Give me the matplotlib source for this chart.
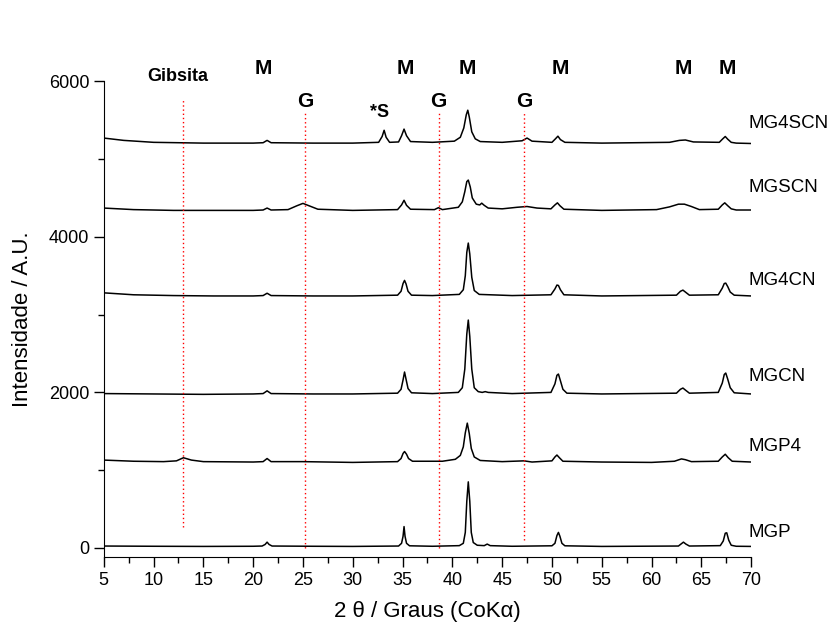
import matplotlib
matplotlib.use("Agg")
import matplotlib.pyplot as plt
from matplotlib.ticker import MultipleLocator

plt.rcParams['font.family'] = ['Liberation Sans', 'DejaVu Sans']

# Difratogramas (2 theta, intensidade)
mgp_x = [5, 10, 15, 20, 20.9, 21.2, 21.4, 21.6, 21.9, 26, 30, 34.6, 34.9, 35.05, 35.15, 35.25, 35.4, 35.7,
         38, 40.7, 41.1, 41.3, 41.45, 41.6, 41.75, 41.9, 42.1, 42.5, 43.2, 43.5, 43.8, 46, 50.0, 50.3, 50.5,
         50.65, 50.8, 51.0, 51.3, 55, 62.7, 63.0, 63.2, 63.45, 63.8, 66.9, 67.2, 67.4, 67.55, 67.75, 68.0,
         68.5, 70]
mgp_y = [25, 22, 20, 22, 25, 45, 75, 45, 25, 22, 20, 25, 60, 150, 275, 150, 60, 28,
         22, 30, 60, 200, 600, 850, 600, 200, 70, 35, 30, 50, 30, 22, 28, 60, 160,
         200, 150, 60, 28, 20, 25, 55, 75, 50, 25, 30, 90, 190, 195, 100, 35,
         22, 20]

mgp4_x = [5, 8, 11, 12.3, 13.0, 13.8, 15, 20, 21.0, 21.4, 21.8, 25, 30, 34.5, 34.85, 35.05, 35.2, 35.4,
          35.6, 36, 39, 40.3, 40.8, 41.1, 41.3, 41.5, 41.7, 41.9, 42.2, 42.8, 45, 47.2, 48, 50.0, 50.3,
          50.5, 50.75, 51.1, 55, 60, 62.3, 63.0, 63.4, 64, 66.7, 67.1, 67.4, 67.7, 68.1, 70]
mgp4_y = [1130, 1115, 1110, 1120, 1160, 1130, 1110, 1105, 1110, 1150, 1110, 1110, 1100, 1110, 1150, 1215, 1240, 1205,
          1150, 1115, 1115, 1140, 1190, 1300, 1480, 1605, 1470, 1280, 1170, 1125, 1110, 1120, 1105, 1120, 1170,
          1195, 1160, 1115, 1105, 1100, 1115, 1145, 1135, 1110, 1115, 1170, 1205, 1160, 1115, 1105]

mgcn_x = [5, 10, 15, 20, 21.0, 21.4, 21.8, 26, 30, 34.5, 34.85, 35.05, 35.2, 35.35, 35.55, 35.9, 38, 40.6,
          41.0, 41.25, 41.45, 41.6, 41.75, 41.95, 42.2, 42.6, 43.0, 43.3, 43.6, 46, 49.9, 50.3, 50.5,
          50.65, 50.85, 51.1, 51.5, 55, 62.5, 62.9, 63.15, 63.4, 63.8, 66.7, 67.1, 67.3, 67.45, 67.65,
          67.9, 68.3, 70]
mgcn_y = [1985, 1980, 1975, 1980, 1985, 2020, 1985, 1980, 1980, 1990, 2040, 2160, 2262, 2170, 2050, 1995, 1985, 2000,
          2060, 2300, 2750, 2930, 2720, 2300, 2060, 2010, 2000, 2010, 2000, 1985, 2000, 2110, 2220,
          2236, 2150, 2040, 1990, 1980, 1990, 2040, 2056, 2030, 1990, 2000, 2120, 2230, 2249, 2170,
          2060, 1995, 1980]

mg4cn_x = [5, 8, 12, 16, 20, 21.0, 21.4, 21.8, 26, 30, 34.5, 34.85, 35.05, 35.2, 35.35, 35.55, 35.9, 38, 40.7,
           41.1, 41.3, 41.45, 41.6, 41.75, 41.95, 42.2, 42.7, 46, 49.9, 50.3, 50.5, 50.65, 50.85, 51.2,
           55, 62.5, 62.9, 63.15, 63.4, 63.8, 66.7, 67.1, 67.3, 67.45, 67.65, 67.9, 68.3, 70]
mg4cn_y = [3280, 3255, 3245, 3240, 3240, 3245, 3275, 3245, 3240, 3240, 3250, 3300, 3400, 3440, 3395, 3300, 3250, 3245, 3260,
           3320, 3500, 3800, 3920, 3780, 3480, 3310, 3260, 3245, 3255, 3330, 3380, 3375, 3320, 3255,
           3240, 3250, 3300, 3315, 3290, 3250, 3255, 3340, 3400, 3405, 3360, 3290, 3250, 3240]

mgscn_x = [5, 8, 12, 16, 20, 21.0, 21.4, 21.8, 23.5, 24.4, 25.0, 25.6, 26.5, 30, 34.5, 34.9, 35.15, 35.4,
           35.8, 38.2, 38.6, 39.0, 40.6, 41.0, 41.25, 41.45, 41.6, 41.8, 42.0, 42.4, 42.75, 42.95, 43.2,
           43.6, 45, 46.5, 47.5, 48.5, 49.9, 50.3, 50.55, 50.8, 51.2, 55, 60.5, 61.8, 62.7, 63.3, 64.0,
           64.8, 66.7, 67.1, 67.35, 67.65, 68.0, 68.5, 70]
mgscn_y = [4370, 4350, 4340, 4340, 4340, 4345, 4370, 4345, 4350, 4400, 4430, 4400, 4355, 4340, 4350, 4410, 4470, 4405,
           4355, 4350, 4375, 4350, 4380, 4450, 4580, 4710, 4730, 4640, 4500, 4420, 4410, 4433, 4405,
           4370, 4360, 4380, 4390, 4370, 4360, 4410, 4437, 4400, 4355, 4340, 4350, 4385, 4420, 4420, 4390,
           4350, 4355, 4410, 4437, 4400, 4360, 4345, 4345]

mg4scn_x = [5, 7, 10, 15, 20, 21.0, 21.4, 21.8, 26, 30, 32.6, 32.95, 33.15, 33.35, 33.7, 34.6, 34.9, 35.15,
            35.4, 35.8, 38, 40.2, 40.8, 41.15, 41.4, 41.55, 41.7, 41.95, 42.3, 42.8, 45, 47.0, 47.5, 48.0,
            50.0, 50.35, 50.6, 50.85, 51.3, 55, 61.8, 62.8, 63.4, 64.2, 66.8, 67.15, 67.4, 67.65, 68.0,
            68.5, 70]
mg4scn_y = [5270, 5240, 5215, 5205, 5205, 5210, 5240, 5210, 5205, 5205, 5215, 5290, 5370, 5280, 5215, 5220, 5300, 5385,
            5300, 5225, 5215, 5230, 5280, 5400, 5570, 5628, 5540, 5350, 5260, 5225, 5215, 5235, 5270, 5230,
            5215, 5260, 5294, 5250, 5215, 5205, 5215, 5240, 5245, 5220, 5215, 5260, 5290, 5255, 5215,
            5205, 5200]

traces = [(mgp_x, mgp_y), (mgp4_x, mgp4_y), (mgcn_x, mgcn_y),
          (mg4cn_x, mg4cn_y), (mgscn_x, mgscn_y), (mg4scn_x, mg4scn_y)]

sample_names = ['MGP', 'MGP4', 'MGCN', 'MG4CN', 'MGSCN', 'MG4SCN']
name_y = [205, 1310, 2210, 3444, 4640, 5461]

# linhas de referencia (gibsita) e rotulos de fase
ref_x = [13.0, 25.2, 38.65, 47.2]
ref_ymin = [270, 0, 0, 100]
ref_ymax = [5780, 5590, 5590, 5590]

m_x = [21.0, 35.25, 41.5, 50.8, 63.2, 67.6]
g_x = [25.2, 38.6, 47.2]

fig = plt.figure(figsize=(8.3, 6.3), dpi=100)
ax = fig.add_axes([0.125, 0.116, 0.78, 0.755])

for (x, y) in traces:
    ax.plot(x, y, color='black', lw=1.1)

for xr, y0, y1 in zip(ref_x, ref_ymin, ref_ymax):
    ax.plot([xr, xr], [y0, y1], color='red', lw=1.0, ls=(0, (1, 2)))

for name, yn in zip(sample_names, name_y):
    ax.text(69.7, yn, name, fontsize=13.5, va='center', ha='left', clip_on=False)

for xm in m_x:
    ax.text(xm, 6170, 'M', fontsize=15, fontweight='bold', ha='center', va='center', clip_on=False)
for xg in g_x:
    ax.text(xg, 5744, 'G', fontsize=15, fontweight='bold', ha='center', va='center', clip_on=False)
ax.text(12.4, 6065, 'Gibsita', fontsize=13, fontweight='bold', ha='center', va='center', clip_on=False)
ax.text(32.7, 5600, '*S', fontsize=13, fontweight='bold', ha='center', va='center', clip_on=False)

ax.set_xlim(5, 70)
ax.set_ylim(-115, 6000)
ax.xaxis.set_major_locator(MultipleLocator(5))
ax.xaxis.set_minor_locator(MultipleLocator(2.5))
ax.yaxis.set_major_locator(MultipleLocator(2000))
ax.yaxis.set_minor_locator(MultipleLocator(1000))

ax.spines['top'].set_visible(False)
ax.spines['right'].set_visible(False)
ax.tick_params(which='both', direction='out', labelsize=13)
ax.tick_params(which='major', length=7, width=1)
ax.tick_params(which='minor', length=4, width=1)

ax.set_xlabel('2 θ / Graus (CoKα)', fontsize=16, labelpad=9)
ax.set_ylabel('Intensidade / A.U.', fontsize=16, labelpad=11)

fig.savefig('out.png', dpi=100)
